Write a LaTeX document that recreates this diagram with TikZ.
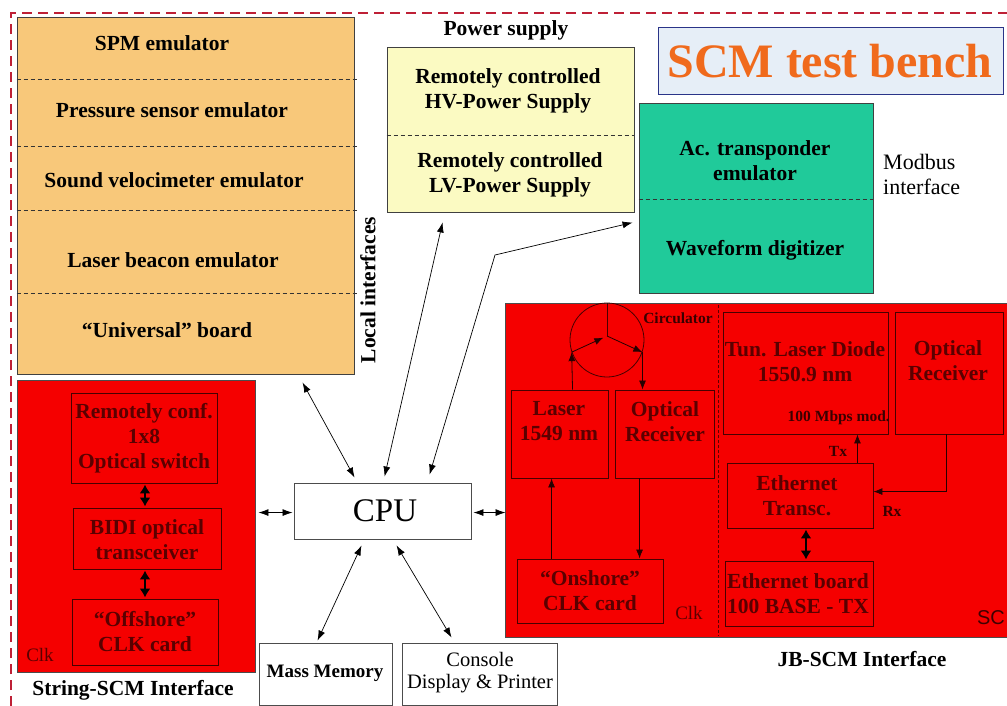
\documentclass[tikz,border=0pt]{standalone}
\usepackage{fontspec}
\setmainfont{Liberation Serif}
\newfontfamily\sansf{Liberation Sans}
\usetikzlibrary{arrows.meta,calc}
\definecolor{orangefill}{HTML}{F8C87A}
\definecolor{yellowfill}{HTML}{FBFAC2}
\definecolor{greenfill}{HTML}{20CA9A}
\definecolor{redfill}{HTML}{F50000}
\definecolor{darkred}{HTML}{5A0000}
\definecolor{labred}{HTML}{3A0000}
\definecolor{framered}{HTML}{BE2036}
\definecolor{titlefill}{HTML}{E6EEF7}
\definecolor{titleblue}{HTML}{2A3488}
\definecolor{titleorange}{HTML}{F06A1C}
\newcommand\bfmain{\fontsize{21.5}{25}\selectfont\bfseries}
\newcommand\rgmain{\fontsize{22}{25}\selectfont}
\newcommand\bfsmall{\fontsize{15.5}{17}\selectfont\bfseries}
\begin{document}
\begin{tikzpicture}[x=1pt,y=-1pt,
  boxbase/.style={rectangle, inner sep=0pt, line width=0.9pt},
  obox/.style={boxbase, draw=black!75, fill=orangefill},
  ybox/.style={boxbase, draw=black!75, fill=yellowfill},
  gbox/.style={boxbase, draw=black!75, fill=greenfill},
  rbox/.style={boxbase, draw=black!70, fill=redfill},
  ibox/.style={boxbase, draw=darkred!80!black},
  wbox/.style={boxbase, draw=black!70, fill=white},
  lbl/.style={inner sep=0pt, align=center, font=\bfmain},
  rlbl/.style={lbl, text=darkred},
  smlbl/.style={inner sep=0pt, font=\bfsmall, text=labred},
  divider/.style={dashed, dash pattern=on 4pt off 3pt, line width=0.7pt, black!80},
  conn/.style={line width=0.7pt, {Latex[length=10pt,width=7pt]}-{Latex[length=10pt,width=7pt]}},
  thickconn/.style={line width=1.8pt, {Latex[length=9pt,width=11pt]}-{Latex[length=9pt,width=11pt]}},
  inconn/.style={line width=0.8pt, -{Latex[length=9pt,width=7pt]}, black!85!red},
]
\useasboundingbox (0,0) rectangle (1007,706);
\fill[white] (0,0) rectangle (1007,706);

% outer dashed frame
\coordinate (frameBL) at (11,706);
\coordinate (frameTL) at (11,13);
\coordinate (frameTR) at (1007,13);
\draw[framered, line width=2pt, dash pattern=on 10pt off 6pt] (frameBL) -- (frameTL) -- (frameTR);

% ---------------- orange emulator block
\node[obox, minimum width=337pt, minimum height=357pt] (orange) at (185.5,195.5) {};
\foreach \yy [count=\i] in {80,147,211,294}{
  \draw[divider] ($(orange.north west)+(0,\yy-17)$) coordinate (od\i) -- ++(341,0);
}
\node[lbl] (spm) at (162,43) {SPM emulator};
\node[lbl] (press) at (172,110) {Pressure sensor emulator};
\node[lbl] (sound) at (174,180) {Sound velocimeter emulator};
\node[lbl] (laserb) at (173,260) {Laser beacon emulator};
\node[lbl] (univ) at (167,330) {“Universal” board};
\node[lbl, rotate=90] (local) at (368,290) {Local interfaces};

% ---------------- power supply
\node[lbl] (pslabel) at (506,30) {Power supply};
\node[ybox, minimum width=247pt, minimum height=165pt] (yellow) at (510.5,129.5) {};
\draw[divider] ($(yellow.north west)+(0,89)$) coordinate (yd) -- ++(247,0);
\node[lbl] (hv) at (508,90.5) {Remotely controlled\\HV-Power Supply};
\node[lbl] (lv) at (510,174.5) {Remotely controlled\\LV-Power Supply};

% ---------------- title
\node[boxbase, draw=titleblue, fill=titlefill, minimum width=345pt, minimum height=67pt] (title) at (830.5,60.5) {};
\node[inner sep=0pt, font=\fontsize{48}{50}\selectfont\bfseries, text=titleorange] (titletext) at (830,61) {SCM test bench};

% ---------------- green block
\node[gbox, minimum width=234pt, minimum height=190pt] (green) at (756,198) {};
\draw[divider] ($(green.north west)+(0,97)$) coordinate (gd) -- ++(234,0);
\node[lbl] (actr) at (755,160.5) {Ac. transponder\\emulator};
\node[lbl] (wave) at (755,250) {Waveform digitizer};
\node[inner sep=0pt, align=left, anchor=west, font=\rgmain] (modbus) at (883,174.5) {Modbus\\interface};

% ---------------- String-SCM interface
\node[rbox, minimum width=238pt, minimum height=292pt] (strbox) at (136,526) {};
\node[ibox, minimum width=146pt, minimum height=90pt] (sw) at (144,438) {};
\node[ibox, minimum width=148pt, minimum height=61pt] (bidi) at (147,538.5) {};
\node[ibox, minimum width=146pt, minimum height=66pt] (off) at (145,632) {};
\node[rlbl] (swt) at (144,438) {Remotely conf.\\1x8\\Optical switch};
\node[rlbl] (bidit) at (147,539.5) {BIDI optical\\transceiver};
\node[rlbl] (offt) at (145,631.5) {“Offshore”\\CLK card};
\node[inner sep=0pt, font=\fontsize{19}{22}\selectfont, text=darkred] (clk1) at (40,655) {Clk};
\node[lbl] (strlabel) at (133,690) {String-SCM Interface};
\draw[thickconn] ($(sw.south)+(1,1)$) -- ($(bidi.north)+(-2,-1)$);
\draw[thickconn] ($(bidi.south)+(-2,1)$) -- ($(off.north)+(0,-1)$);

% ---------------- CPU and peripherals
\node[wbox, minimum width=177pt, minimum height=56pt] (cpu) at (382.5,511) {};
\node[inner sep=0pt, font=\fontsize{33}{36}\selectfont] (cput) at (385,511) {CPU};
\node[wbox, minimum width=133pt, minimum height=62pt] (mass) at (325.5,674) {};
\node[inner sep=0pt, font=\fontsize{19}{22}\selectfont\bfseries] (masst) at (325,673) {Mass Memory};
\node[wbox, minimum width=155pt, minimum height=62pt] (cons) at (479.5,674) {};
\node[inner sep=0pt, align=center, font=\fontsize{20.5}{22}\selectfont] (const) at (480,673) {Console\\Display \& Printer};

% ---------------- JB-SCM interface
\node[rbox, minimum width=506pt, minimum height=334pt] (jb) at (758,470) {};
\coordinate (jbdivtop) at (718,305);
\coordinate (jbdivbot) at (718,636);
\draw[dashed, dash pattern=on 3pt off 2pt, line width=0.6pt, darkred] (jbdivtop) -- (jbdivbot);
\node[smlbl] (circlab) at (678,318) {Circulator};
\node[circle, draw=darkred!80!black, line width=0.8pt, minimum size=74pt, inner sep=0pt] (circ) at (607,340) {};
\coordinate (cc) at (607,336);
\draw[line width=0.8pt, darkred!80!black] (cc) -- (circ.north);
\draw[inconn, shorten >=4pt] (circ.199) -- (cc);
\draw[inconn] (cc) -- (circ.341);
\node[ibox, minimum width=97pt, minimum height=88pt] (laser) at (559.5,434) {};
\node[ibox, minimum width=99pt, minimum height=88pt] (orx) at (664.5,434) {};
\node[ibox, minimum width=146pt, minimum height=64pt] (onsh) at (590,591) {};
\node[rlbl] (lasert) at (559,421.5) {Laser\\1549 nm};
\node[rlbl] (orxt) at (665,421.5) {Optical\\Receiver};
\node[rlbl] (onsht) at (590,591) {“Onshore”\\CLK card};
\node[inner sep=0pt, font=\fontsize{19}{22}\selectfont, text=darkred] (clk2) at (689,613) {Clk};
\draw[inconn] ($(laser.north west)+(62,0)$) -- (circ.199);
\draw[inconn] (circ.341) -- ($(orx.north west)+(28,0)$);
\draw[inconn] ($(onsh.north west)+(35,0)$) -- ($(laser.south west)+(41,0)$);
\draw[inconn] ($(orx.south west)+(25,0)$) -- ($(onsh.north west)+(123,0)$);

\node[ibox, minimum width=165pt, minimum height=122pt] (tun) at (805.5,373) {};
\node[ibox, minimum width=108pt, minimum height=122pt] (or2) at (949,373) {};
\node[ibox, minimum width=146pt, minimum height=65pt] (eth) at (800,495.5) {};
\node[ibox, minimum width=148pt, minimum height=65pt] (ethb) at (799,593.5) {};
\node[rlbl] (tunt) at (805,361.5) {Tun. Laser Diode\\1550.9 nm};
\node[smlbl, anchor=east] (modt) at (890,418) {100 Mbps mod.};
\node[rlbl] (or2t) at (948,360.5) {Optical\\Receiver};
\node[rlbl] (etht) at (797,495.5) {Ethernet\\Transc.};
\node[rlbl] (ethbt) at (798,594) {Ethernet board\\100 BASE - TX};
\node[smlbl] (txl) at (838,451) {Tx};
\node[smlbl] (rxl) at (892,511) {Rx};
\node[inner sep=0pt, font=\sansf\fontsize{20}{22}\selectfont, text=darkred!70!black] (scl) at (991,618) {SC};
\draw[inconn] ($(eth.north east)+(-16,0)$) -- ($(tun.south east)+(-31,0)$);
\draw[inconn] ($(or2.south west)+(52,0)$) |- ($(eth.north east)+(0,29)$);
\draw[thickconn] ($(eth.south)+(6,1)$) -- ($(ethb.north)+(7,-1)$);
\node[lbl] (jblabel) at (862,659) {JB-SCM Interface};

% ---------------- connectors to CPU
\draw[conn] ($(orange.south west)+(286,8)$) -- ($(cpu.north west)+(61,-5)$);
\draw[conn] ($(yellow.south west)+(56,10)$) -- ($(cpu.north west)+(91,-6)$);
\coordinate (gbend) at (495,255);
\draw[conn] ($(cpu.north west)+(136,-8)$) -- (gbend) -- ($(green.north west)+(-6,120)$);
\draw[conn] ($(strbox.north east)+(3,133)$) -- ($(cpu.north west)+(-1,30)$);
\draw[conn] ($(cpu.north east)+(2,30)$) -- ($(jb.north west)+(1,210)$);
\draw[conn] ($(cpu.south west)+(68,6)$) -- ($(mass.north west)+(59,-2)$);
\draw[conn] ($(cpu.south west)+(103,6)$) -- ($(cons.north west)+(50,-5)$);
\end{tikzpicture}
\end{document}
